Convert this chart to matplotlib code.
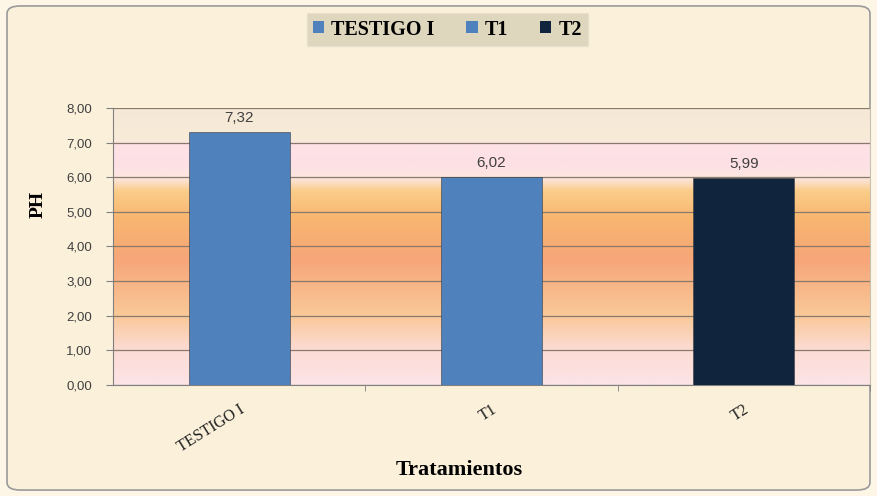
import numpy as np
import matplotlib
matplotlib.use("Agg")
import matplotlib.pyplot as plt
from matplotlib.colors import LinearSegmentedColormap
from matplotlib.patches import FancyBboxPatch, Patch

categories = ["TESTIGO I", "T1", "T2"]
values = [7.32, 6.02, 5.99]
value_labels = ["7,32", "6,02", "5,99"]
bar_colors = ["#4f81bd", "#4f81bd", "#10243e"]
yticks = [0, 1, 2, 3, 4, 5, 6, 7, 8]
ytick_labels = ["0,00", "1,00", "2,00", "3,00", "4,00", "5,00", "6,00", "7,00", "8,00"]

fig = plt.figure(figsize=(8.77, 4.96), dpi=100)
fig.patch.set_facecolor("#fdf6e6")
border = FancyBboxPatch((0.008, 0.012), 0.984, 0.976, boxstyle="round,pad=0,rounding_size=0.015",
                        transform=fig.transFigure, facecolor="#fbf0da", edgecolor="#9a9a9a",
                        linewidth=1.2, zorder=-10)
fig.patches.append(border)

ax = fig.add_axes([0.1289, 0.2238, 0.8631, 0.5585])
ax.set_facecolor("none")

grad_stops = [
    (0.0, "#fce4e6"),
    (0.12, "#fcdcd6"),
    (0.25, "#fac898"),
    (0.45, "#f6a679"),
    (0.6, "#f8b670"),
    (0.70, "#fbcd8a"),
    (0.745, "#fde6e0"),
    (0.80, "#fde0e6"),
    (0.87, "#fde2e6"),
    (0.885, "#f8ebd8"),
    (1.0, "#f6e8d6"),
]
cmap = LinearSegmentedColormap.from_list("bg", grad_stops)
grad = np.linspace(0, 1, 400).reshape(-1, 1)
ax.imshow(grad, cmap=cmap, aspect="auto", extent=[-0.5, 2.5, 0, 8], origin="lower", zorder=0)

x = np.arange(len(categories))
ax.bar(x, values, width=0.4, color=bar_colors, edgecolor="#3a3a3a", linewidth=0.4, zorder=3)
for xi, v, lab in zip(x, values, value_labels):
    ax.text(xi, v + 0.2, lab, ha="center", va="bottom", fontsize=11,
            family="Liberation Sans", color="#404040", zorder=4)

ax.set_xlim(-0.5, 2.5)
ax.set_ylim(0, 8)
ax.set_yticks(yticks)
ax.set_yticklabels(ytick_labels, family="Liberation Sans", fontsize=9.5, color="#404040")
ax.yaxis.grid(True, color="#8a7a6a", linewidth=0.9, zorder=1)
ax.set_axisbelow(False)
ax.set_xticks(x)
ax.set_xticklabels(categories, rotation=32, ha="right", va="top", rotation_mode="anchor",
                   family="Liberation Serif", fontsize=11.5, color="#202020")
ax.tick_params(axis="x", length=0, pad=12)
ax.set_xticks([0.5, 1.5, 2.5], minor=True)
ax.tick_params(axis="x", which="minor", length=4, color="#808080")
ax.tick_params(axis="y", length=5, color="#808080", pad=10)
for s in ["left", "bottom"]:
    ax.spines[s].set_color("#808080")
ax.spines["top"].set_visible(False)
ax.spines["right"].set_color("#c8c0b0")

ax.set_ylabel("PH", family="Liberation Serif", fontweight="bold", fontsize=14)
ax.yaxis.set_label_coords(-0.088, 0.65)
ax.set_xlabel("Tratamientos", family="Liberation Serif", fontweight="bold", fontsize=16)
ax.xaxis.set_label_coords(0.457, -0.27)

handles = [Patch(facecolor=c, edgecolor="none") for c in bar_colors]
leg = fig.legend(handles, categories, loc="center", bbox_to_anchor=(0.510, 0.9405), ncol=3,
                 prop={"family": "Liberation Serif", "weight": "bold", "size": 14.5},
                 handlelength=0.55, handleheight=0.55, handletextpad=0.35, columnspacing=1.6,
                 frameon=True, fancybox=False, borderpad=0.3)
leg.get_frame().set_facecolor("#d8d0b8")
leg.get_frame().set_edgecolor("#e8e0cc")

fig.savefig("out.png", dpi=100, facecolor=fig.get_facecolor())
